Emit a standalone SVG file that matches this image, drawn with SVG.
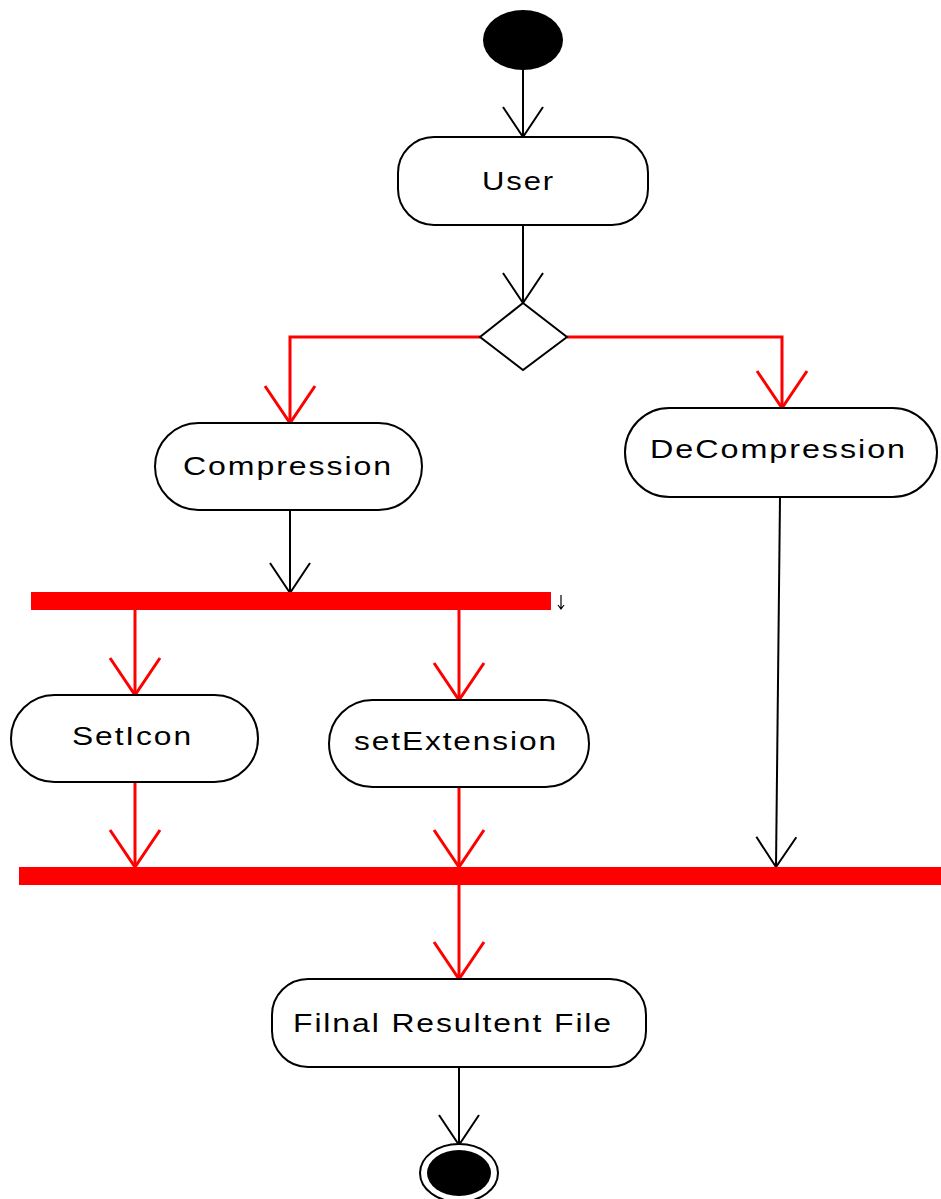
<svg xmlns="http://www.w3.org/2000/svg" width="941" height="1199" viewBox="0 0 941 1199">
<style>
.node{fill:#fff;stroke:#000;stroke-width:2}
.lbl{font-family:"Liberation Sans",Arial,sans-serif;font-size:25px;fill:#000;text-anchor:start;letter-spacing:1.5px}
.blk{stroke:#000;stroke-width:2;fill:none}
.red{stroke:#ff0000;stroke-width:3;fill:none}
.bar{fill:#ff0000}
</style>
<defs>
<marker id="ab" markerUnits="userSpaceOnUse" orient="auto" refX="0" refY="0" markerWidth="60" markerHeight="60" viewBox="-40 -30 50 60" overflow="visible">
<path d="M-30,-20 L0,0 L-30,20" fill="none" stroke="#000" stroke-width="2"/>
</marker>
<marker id="ar" markerUnits="userSpaceOnUse" orient="auto" refX="0" refY="0" markerWidth="60" markerHeight="60" viewBox="-40 -30 50 60" overflow="visible">
<path d="M-37,-25 L0,0 L-37,25" fill="none" stroke="#ff0000" stroke-width="3"/>
</marker>
</defs>
<rect width="941" height="1199" fill="#fff"/>
<g id="connectors">
<path class="blk" d="M523,70 L523,137" marker-end="url(#ab)"/>
<path class="blk" d="M523,225 L523,303" marker-end="url(#ab)"/>
<path class="red" d="M480,337 L290,337 L290,423" marker-end="url(#ar)"/>
<path class="red" d="M567,337 L782,337 L782,408" marker-end="url(#ar)"/>
<path class="blk" d="M290,510 L290,593" marker-end="url(#ab)"/>
<path class="red" d="M135,610 L135,695" marker-end="url(#ar)"/>
<path class="red" d="M459,610 L459,700" marker-end="url(#ar)"/>
<path class="red" d="M135,782 L135,867" marker-end="url(#ar)"/>
<path class="red" d="M459,787 L459,867" marker-end="url(#ar)"/>
<path class="blk" d="M780,497 L776,867" marker-end="url(#ab)"/>
<path class="red" d="M459,884 L459,979" marker-end="url(#ar)"/>
<path class="blk" d="M459,1067 L459,1145" marker-end="url(#ab)"/>
<path d="M561,595 L561,609 M558,605 L561,609 L564,605" stroke="#000" stroke-width="1.2" fill="none"/>
</g>
<g id="start"><ellipse cx="523" cy="40" rx="40" ry="30" fill="#000"/></g>
<g id="user"><rect class="node" x="398" y="137" width="250" height="88" rx="36" ry="36"/><text class="lbl" x="482" y="190" textLength="73" lengthAdjust="spacingAndGlyphs">User</text></g>
<g id="decision"><polygon class="node" points="523,303 567,337 523,370 480,337" stroke-width="1.5"/></g>
<g id="compression"><rect class="node" x="155" y="423" width="267" height="87" rx="43.5" ry="43.5"/><text class="lbl" x="183" y="475" textLength="210" lengthAdjust="spacingAndGlyphs">Compression</text></g>
<g id="decompression"><rect class="node" x="625" y="408" width="312" height="89" rx="44.5" ry="44.5"/><text class="lbl" x="650" y="458" textLength="257" lengthAdjust="spacingAndGlyphs">DeCompression</text></g>
<g id="fork"><rect class="bar" x="31" y="592" width="520" height="18"/></g>
<g id="seticon"><rect class="node" x="11" y="695" width="247" height="87" rx="43.5" ry="43.5"/><text class="lbl" x="72" y="745" textLength="121" lengthAdjust="spacingAndGlyphs">SetIcon</text></g>
<g id="setextension"><rect class="node" x="329" y="700" width="260" height="87" rx="43.5" ry="43.5"/><text class="lbl" x="354" y="750" textLength="204" lengthAdjust="spacingAndGlyphs">setExtension</text></g>
<g id="join"><rect class="bar" x="19" y="867" width="922" height="18"/></g>
<g id="final"><rect class="node" x="272" y="979" width="374" height="88" rx="36" ry="36"/><text class="lbl" x="293" y="1032" textLength="320" lengthAdjust="spacingAndGlyphs">Filnal Resultent File</text></g>
<g id="end"><ellipse cx="459" cy="1173" rx="39" ry="29" fill="#fff" stroke="#000" stroke-width="2"/><ellipse cx="459" cy="1173" rx="32" ry="23" fill="#000"/></g>
</svg>
